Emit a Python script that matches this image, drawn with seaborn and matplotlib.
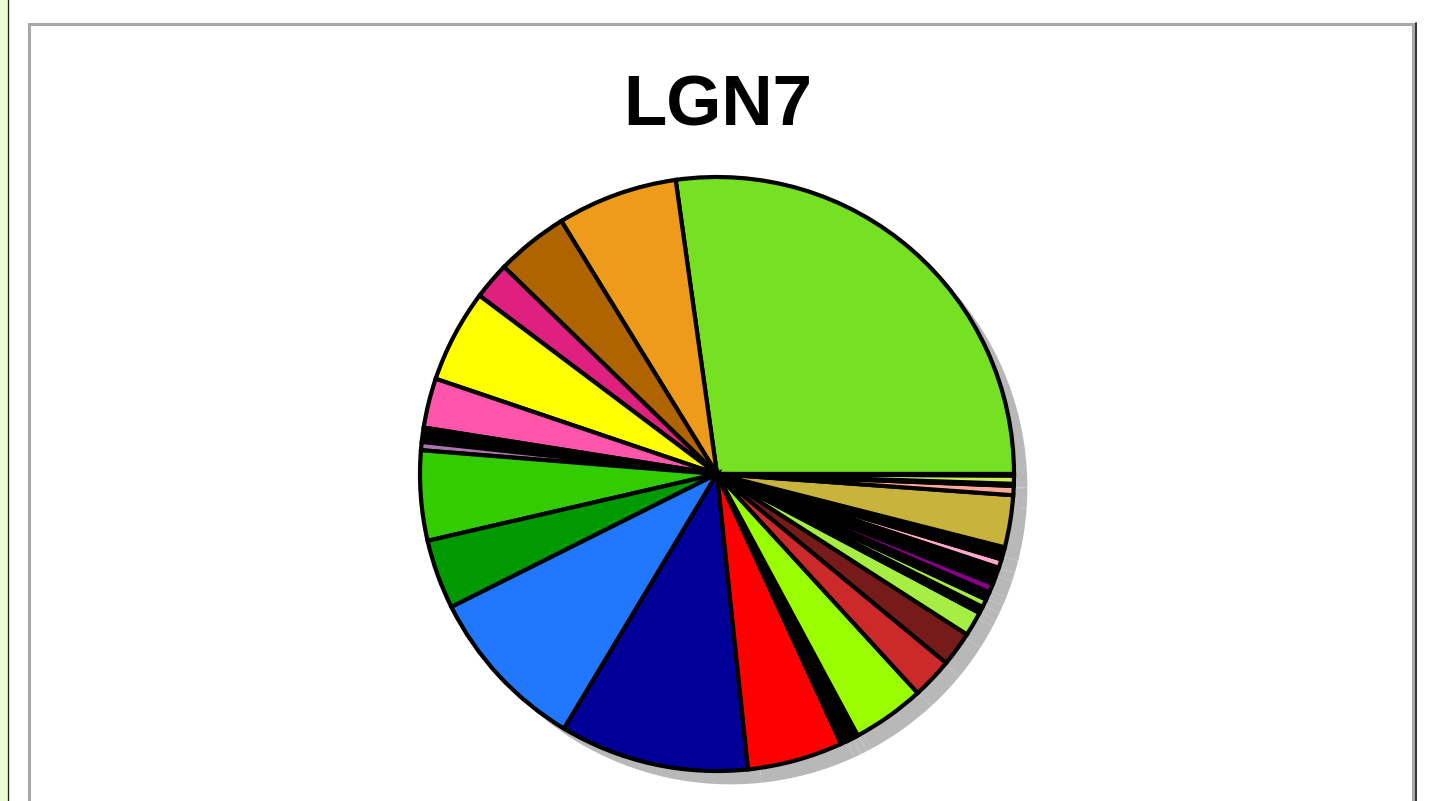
import matplotlib
matplotlib.use("Agg")
import matplotlib.pyplot as plt
from matplotlib.patches import Rectangle
from matplotlib.lines import Line2D
import seaborn as sns

# slice sizes (relative), counterclockwise from 3 o'clock
shares = [98, 23.6, 14.2, 7.3, 18.2, 9.7, 2.8, 1.6, 17.6, 13.6, 32.4, 37, 18.7,
          1.2, 0.3, 1.0, 0.3, 0.8,
          14.2, 8, 6.8, 4.8,
          1.3, 1.6, 1.5, 1.8, 3.3, 1.7, 2.4,
          10.2,
          1.8, 0.4, 1.6, 0.3]
slice_colors = ["#76e022", "#ee9b1c", "#b06400", "#e0207f", "#ffff00", "#ff55aa",
                "#000000", "#aa77aa", "#33cc00", "#009900", "#2277ff", "#000099",
                "#ff0000",
                "#000000", "#aa1111", "#000000", "#cccc00", "#000000",
                "#99ff00", "#cc2a2a", "#771a1a", "#a6ee44",
                "#000000", "#a6ee44", "#000000", "#880088", "#000000", "#ffaacc",
                "#000000",
                "#c8b43c",
                "#ffaa99", "#000000", "#ccee55", "#000000"]
title = "LGN7"

sns.set_theme(style="white")
plt.rcParams['font.family'] = ['Liberation Sans', 'DejaVu Sans']

W, H = 1436, 801
fig = plt.figure(figsize=(W / 100, H / 100), dpi=100)
fig.patch.set_facecolor("white")

# screenshot frame bits
fig.add_artist(Rectangle((0, 0), 7 / W, 1, transform=fig.transFigure,
                         facecolor="#eaffd4", edgecolor="none"))
fig.add_artist(Line2D([7.8 / W, 7.8 / W], [0, 1], transform=fig.transFigure,
                      color="#222222", lw=1.0))
fig.add_artist(Line2D([29.5 / W, 29.5 / W, 1413 / W, 1413 / W],
                      [-0.1, 1 - 24 / H, 1 - 24 / H, -0.1],
                      transform=fig.transFigure, color="#a8a8a8", lw=2.2,
                      solid_joinstyle="miter"))
fig.add_artist(Line2D([1416.3 / W, 1416.3 / W], [0, 1 - 22.5 / H],
                      transform=fig.transFigure, color="#111111", lw=1.2))

# pie axes: centre (717, 474) px, radius 297 px
R = 297
cx, cy = 717, 474
S = 1.25 * R
ax = fig.add_axes([(cx - S) / W, (H - cy - S) / H, 2 * S / W, 2 * S / H])

# drop shadow
ax.pie(shares, colors=["#b8b8b8"] * len(shares), startangle=0,
       counterclock=True, center=(0.045, -0.045),
       wedgeprops=dict(linewidth=0))
ax.pie(shares, colors=slice_colors, startangle=0, counterclock=True,
       wedgeprops=dict(edgecolor="black", linewidth=3.0, joinstyle="miter"))
ax.set_xlim(-1.25, 1.25)
ax.set_ylim(-1.25, 1.25)
ax.set_aspect("equal")
ax.axis("off")

fig.text(718 / W, 1 - 125 / H, title, ha="center", va="baseline",
         fontsize=51, fontweight="bold", color="black")

fig.savefig("out.png", dpi=100)
